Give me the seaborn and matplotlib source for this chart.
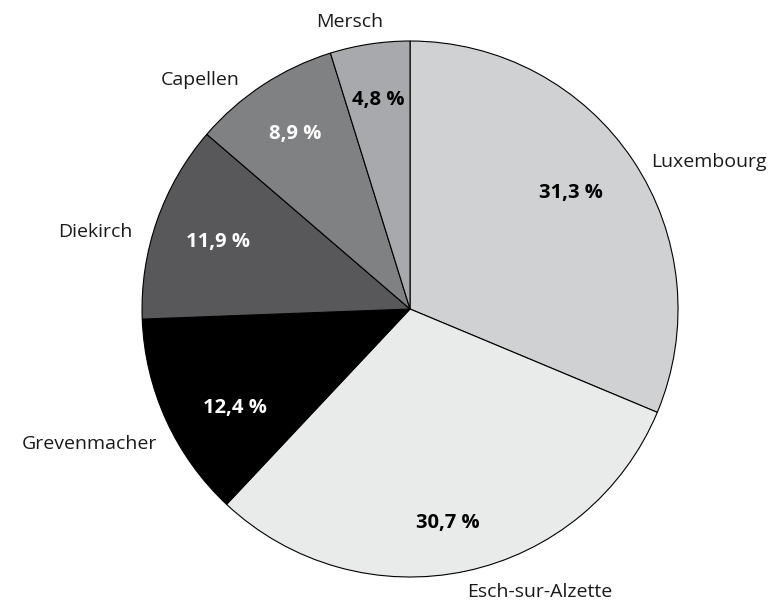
import matplotlib
matplotlib.use('Agg')
import matplotlib.pyplot as plt
import numpy as np
import seaborn as sns

# Données : répartition par canton
cantons = ['Luxembourg', 'Esch-sur-Alzette', 'Grevenmacher', 'Diekirch', 'Capellen', 'Mersch']
parts = [31.3, 30.7, 12.4, 11.9, 8.9, 4.8]
couleurs = ['#d0d1d3', '#e9eaea', '#000000', '#58585a', '#808183', '#a7a9ac']
couleurs_texte = ['black', 'black', 'white', 'white', 'white', 'black']

sns.set_theme(style='white')
plt.rcParams['font.family'] = ['Open Sans', 'DejaVu Sans']

fig = plt.figure(figsize=(7.74, 6.03), dpi=100)
ax = fig.add_axes([0.1835, 0.0431, 0.6925, 0.8889])

wedges, textes = ax.pie(parts, colors=couleurs, startangle=90, counterclock=False,
                        wedgeprops={'edgecolor': 'black', 'linewidth': 0.8})

# pourcentages dans les parts (distance radiale propre à chaque part)
dist_pct = [0.74, 0.81, 0.75, 0.76, 0.78, 0.79]
decal_ang = [2, -2, 5, 0, 0, 0]
for w, p, c, d, da in zip(wedges, parts, couleurs_texte, dist_pct, decal_ang):
    ang = np.deg2rad((w.theta1 + w.theta2) / 2 + da)
    ax.text(d * np.cos(ang), d * np.sin(ang), f'{p:.1f} %'.replace('.', ','),
            ha='center', va='center', fontsize=14.5, fontweight='bold', color=c)

# noms des cantons autour du camembert
pos_noms = [(0.899, 0.549, 'left'), (0.485, -1.056, 'center'), (-0.944, -0.504, 'right'),
            (-1.034, 0.287, 'right'), (-0.634, 0.854, 'right'), (-0.224, 1.071, 'center')]
for nom, (x, y, ha) in zip(cantons, pos_noms):
    ax.text(x, y, nom, ha=ha, va='center', fontsize=14, color='#1a1a1a')

ax.set_xlim(-1, 1)
ax.set_ylim(-1, 1)
ax.set_aspect('equal')
ax.axis('off')

plt.savefig('out.png', dpi=100)
